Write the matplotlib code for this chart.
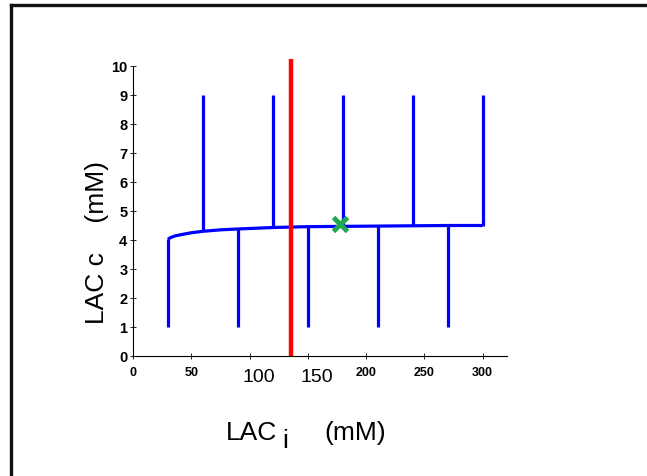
import numpy as np
import matplotlib
matplotlib.use("Agg")
import matplotlib.pyplot as plt
from matplotlib.lines import Line2D

plt.rcParams['font.family'] = ['Liberation Sans', 'DejaVu Sans']

# values
curve_x = [30, 32, 36, 42, 50, 60, 75, 90, 120, 150, 180, 210, 240, 270, 300]
curve_y = [4.02, 4.08, 4.14, 4.19, 4.25, 4.30, 4.35, 4.38, 4.43, 4.46, 4.47, 4.48, 4.49, 4.50, 4.50]
up_x = [60, 120, 180, 240, 300]
up_base = [4.30, 4.43, 4.47, 4.49, 4.50]
up_top = 9
down_x = [30, 90, 150, 210, 270]
down_base = [4.02, 4.38, 4.46, 4.48, 4.50]
down_bottom = 1
red_x = 136
red_top = 10.25
star_x, star_y = 178, 4.55
xticks = [0, 50, 100, 150, 200, 250, 300]
yticks = list(range(0, 11))
big_labels = {100: '100', 150: '150'}

W, H = 647, 477
fig = plt.figure(figsize=(W / 100, H / 100), dpi=100)
ax = fig.add_axes([133/W, 1 - 357/H, 374/W, 290/H])

def px(x, y):
    # pixel position (from top left) -> figure fraction
    return x / W, 1 - y / H

blue = '#0000ff'
ax.plot(curve_x, curve_y, color=blue, lw=2.3, solid_capstyle='butt')
ax.vlines(up_x, up_base, up_top, color=blue, lw=2.3)
ax.vlines(down_x, down_bottom, down_base, color=blue, lw=2.3)
ax.plot([red_x, red_x], [0, red_top], color='#ff0000', lw=3.2, clip_on=False,
        solid_capstyle='butt')
ax.plot(star_x, star_y, marker='x', color='#1fa84f', markersize=10, mew=3.5)

ax.set_xlim(0, 321)
ax.set_ylim(0, 10)
ax.set_xticks(xticks)
ax.set_xticklabels(['' if t in big_labels else str(t) for t in xticks],
                   fontweight='bold', fontsize=9)
ax.set_yticks(yticks)
ax.set_yticklabels([str(t) for t in yticks], fontweight='bold', fontsize=10.5)
ax.tick_params(direction='inout', length=4, width=0.6)
ax.tick_params(axis='x', pad=5)
ax.tick_params(axis='y', pad=2)
for s in ['top', 'right']:
    ax.spines[s].set_visible(False)
for s in ['left', 'bottom']:
    ax.spines[s].set_linewidth(0.8)

for t, lab in big_labels.items():
    ax.text(t + 8, -0.4, lab, ha='center', va='top', fontsize=14)

# x label: LAC, big lowered subscript i, (mM)
fig.text(*px(226, 440), 'LAC', fontsize=19, ha='left', va='baseline')
fig.text(*px(285, 448), 'i', fontsize=19, ha='center', va='baseline')
fig.text(*px(324, 440), '(mM)', fontsize=19, ha='left', va='baseline')

# y label
fig.text(*px(97, 243), 'LAC c    (mM)', fontsize=19, rotation=90,
         ha='center', va='center')

# outer frame (only left and top edges are in view)
fig.add_artist(Line2D([11/W, 11/W], [0, 1 - 6/H], color='#111111', lw=2.4,
                      transform=fig.transFigure))
fig.add_artist(Line2D([11/W, 1], [1 - 6/H, 1 - 6/H], color='#111111', lw=2.4,
                      transform=fig.transFigure))

fig.savefig('out.png', dpi=100)
